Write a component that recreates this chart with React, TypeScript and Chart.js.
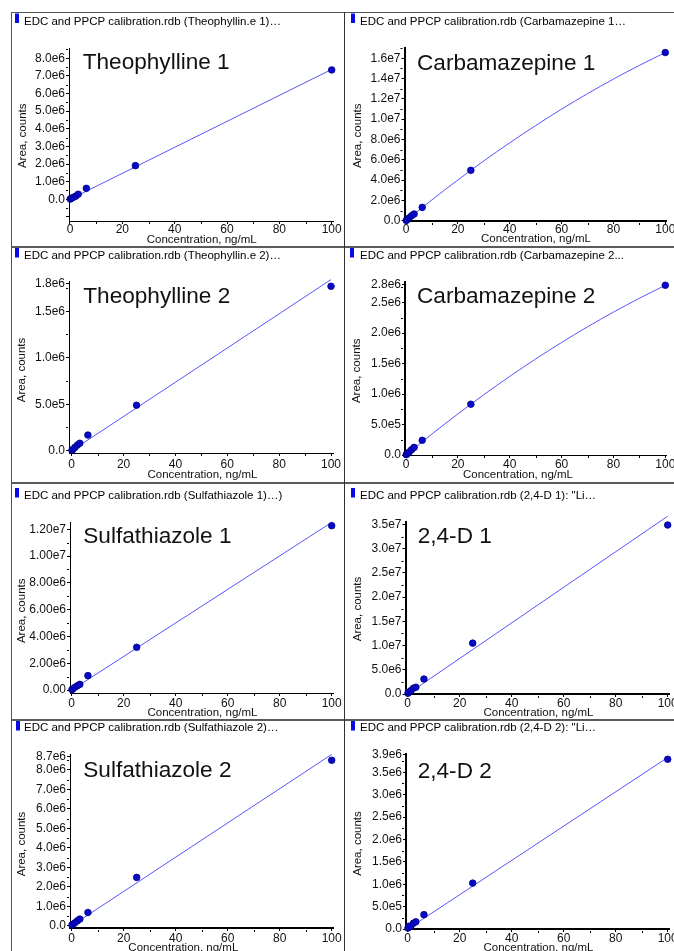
import React, { useEffect, useRef } from 'react';
import { Chart, registerables } from 'chart.js';

Chart.register(...registerables);

// ---------------- data ----------------
const concentrations = [0.1, 0.4, 1.25, 2.2, 3.125, 6.25, 25, 100];

const theophylline1Areas = [0.015e6, 0.045e6, 0.11e6, 0.18e6, 0.29e6, 0.62e6, 1.91e6, 7.34e6];
const carbamazepine1Areas = [0.03e6, 0.1e6, 0.28e6, 0.5e6, 0.66e6, 1.31e6, 4.96e6, 16.56e6];
const theophylline2Areas = [0.004e6, 0.012e6, 0.035e6, 0.06e6, 0.08e6, 0.168e6, 0.489e6, 1.768e6];
const carbamazepine2Areas = [0.006e6, 0.02e6, 0.05e6, 0.09e6, 0.125e6, 0.241e6, 0.833e6, 2.784e6];
const sulfathiazole1Areas = [0.03e6, 0.08e6, 0.2e6, 0.32e6, 0.42e6, 1.07e6, 3.19e6, 12.27e6];
const d24First_Areas = [0.15e6, 0.4e6, 0.7e6, 1.2e6, 1.4e6, 3.09e6, 10.5e6, 34.87e6];
const sulfathiazole2Areas = [0.03e6, 0.07e6, 0.15e6, 0.25e6, 0.34e6, 0.68e6, 2.48e6, 8.5e6];
const d24Second_Areas = [0.02e6, 0.06e6, 0.065e6, 0.13e6, 0.16e6, 0.32e6, 1.025e6, 3.79e6];

// calibration fits
const linearFitConc = [0, 100];
const curveFitConc = [0, 10, 20, 30, 40, 50, 60, 70, 80, 90, 100];

const theophylline1Fit = [0, 7.37e6];
const carbamazepine1Fit = [0, 2.05e6, 4.01e6, 5.89e6, 7.67e6, 9.37e6, 10.99e6, 12.51e6, 13.95e6, 15.3e6, 16.56e6];
const theophylline2Fit = [0, 1.84e6];
const carbamazepine2Fit = [0, 0.344e6, 0.674e6, 0.989e6, 1.289e6, 1.575e6, 1.846e6, 2.102e6, 2.344e6, 2.571e6, 2.784e6];
const sulfathiazole1Fit = [0, 12.52e6];
const d24First_Fit = [0, 36.7e6];
const sulfathiazole2Fit = [0, 8.8e6];
const d24Second_Fit = [0, 3.83e6];

// tick values and labels
const xTickValues = [0, 20, 40, 60, 80, 100];
const xTickLabels = ['0', '20', '40', '60', '80', '100'];

const theophylline1YTicks = [-1e6, 0, 1e6, 2e6, 3e6, 4e6, 5e6, 6e6, 7e6, 8e6];
const theophylline1YLabels = ['', '0.0', '1.0e6', '2.0e6', '3.0e6', '4.0e6', '5.0e6', '6.0e6', '7.0e6', '8.0e6'];
const carbamazepine1YTicks = [0, 2e6, 4e6, 6e6, 8e6, 10e6, 12e6, 14e6, 16e6];
const carbamazepine1YLabels = ['0.0', '2.0e6', '4.0e6', '6.0e6', '8.0e6', '1.0e7', '1.2e7', '1.4e7', '1.6e7'];
const theophylline2YTicks = [0, 0.5e6, 1e6, 1.5e6, 1.8e6];
const theophylline2YLabels = ['0.0', '5.0e5', '1.0e6', '1.5e6', '1.8e6'];
const carbamazepine2YTicks = [0, 0.5e6, 1e6, 1.5e6, 2e6, 2.5e6, 2.8e6];
const carbamazepine2YLabels = ['0.0', '5.0e5', '1.0e6', '1.5e6', '2.0e6', '2.5e6', '2.8e6'];
const sulfathiazole1YTicks = [0, 2e6, 4e6, 6e6, 8e6, 10e6, 12e6];
const sulfathiazole1YLabels = ['0.00', '2.00e6', '4.00e6', '6.00e6', '8.00e6', '1.00e7', '1.20e7'];
const d24First_YTicks = [0, 5e6, 10e6, 15e6, 20e6, 25e6, 30e6, 35e6];
const d24First_YLabels = ['0.0', '5.0e6', '1.0e7', '1.5e7', '2.0e7', '2.5e7', '3.0e7', '3.5e7'];
const sulfathiazole2YTicks = [0, 1e6, 2e6, 3e6, 4e6, 5e6, 6e6, 7e6, 8e6, 8.7e6];
const sulfathiazole2YLabels = ['0.0', '1.0e6', '2.0e6', '3.0e6', '4.0e6', '5.0e6', '6.0e6', '7.0e6', '8.0e6', '8.7e6'];
const d24Second_YTicks = [0, 0.5e6, 1e6, 1.5e6, 2e6, 2.5e6, 3e6, 3.5e6, 3.9e6];
const d24Second_YLabels = ['0.0', '5.0e5', '1.0e6', '1.5e6', '2.0e6', '2.5e6', '3.0e6', '3.5e6', '3.9e6'];

const headers = [
  'EDC and PPCP calibration.rdb (Theophyllin.e 1)\u2026',
  'EDC and PPCP calibration.rdb (Carbamazepine 1\u2026',
  'EDC and PPCP calibration.rdb (Theophyllin.e 2)\u2026',
  'EDC and PPCP calibration.rdb (Carbamazepine 2...',
  'EDC and PPCP calibration.rdb (Sulfathiazole 1)\u2026)',
  'EDC and PPCP calibration.rdb (2,4-D 1): "Li\u2026',
  'EDC and PPCP calibration.rdb (Sulfathiazole 2)\u2026',
  'EDC and PPCP calibration.rdb (2,4-D 2): "Li\u2026',
];
const titles = [
  'Theophylline 1', 'Carbamazepine 1', 'Theophylline 2', 'Carbamazepine 2',
  'Sulfathiazole 1', '2,4-D 1', 'Sulfathiazole 2', '2,4-D 2',
];
const xAxisTitle = 'Concentration, ng/mL';
const yAxisTitle = 'Area, counts';

// ---------------- layout (absolute page pixels) ----------------
type Layout = {
  left: number; top: number; width: number; height: number;
  area: [number, number, number, number];
  xRange: [number, number]; yRange: [number, number];
  yMinor: number; yBorder: number; xBorder: number;
  square: [number, number]; header: [number, number];
  title: [number, number]; yTitle: [number, number]; xTitle: [number, number];
  xLabelY: number;
};

const layouts: Layout[] = [
  { left: 11, top: 13, width: 333, height: 234, area: [69, 48, 333, 221], xRange: [-0.38, 100.5], yRange: [-1.231e6, 8.584e6],
    yMinor: 0.5e6, yBorder: 1, xBorder: 1, square: [15, 13.5], header: [24, 21.7], title: [82.7, 69], yTitle: [23.3, 135.8], xTitle: [201.7, 240], xLabelY: 230 },
  { left: 344, top: 13, width: 330, height: 234, area: [404.5, 48, 666, 221], xRange: [-0.58, 100.27], yRange: [-0.03e6, 17.01e6],
    yMinor: 1e6, yBorder: 2, xBorder: 2, square: [351, 13.5], header: [360, 21.7], title: [417, 70], yTitle: [357.7, 135.8], xTitle: [536, 239.3], xLabelY: 230 },
  { left: 11, top: 247, width: 333, height: 236, area: [69, 281, 333, 453], xRange: [-1.04, 100.77], yRange: [-0.025e6, 1.825e6],
    yMinor: 0.25e6, yBorder: 1, xBorder: 1, square: [15, 248], header: [24, 256], title: [83.3, 303.3], yTitle: [22.3, 370], xTitle: [202.5, 475], xLabelY: 465 },
  { left: 344, top: 247, width: 330, height: 236, area: [405, 282, 666, 455], xRange: [-0.39, 100.27], yRange: [0, 2.838e6],
    yMinor: 0.25e6, yBorder: 2, xBorder: 1, square: [350, 248], header: [360, 256], title: [417, 303.3], yTitle: [357, 370.8], xTitle: [518, 475], xLabelY: 465 },
  { left: 11, top: 483, width: 333, height: 236, area: [70, 522, 333, 693], xRange: [-0.65, 100.5], yRange: [-0.224e6, 12.545e6],
    yMinor: 1e6, yBorder: 1, xBorder: 1, square: [15, 488], header: [24, 496], title: [83.3, 542.7], yTitle: [22.3, 610.8], xTitle: [202.5, 713.3], xLabelY: 704 },
  { left: 344, top: 483, width: 330, height: 236, area: [405.5, 522, 669, 694], xRange: [-0.85, 100.5], yRange: [0, 35.5e6],
    yMinor: 2.5e6, yBorder: 2, xBorder: 2, square: [351, 488], header: [360, 496], title: [417.7, 543.3], yTitle: [357.7, 609], xTitle: [538.5, 713.3], xLabelY: 704 },
  { left: 11, top: 719, width: 333, height: 232, area: [70, 754, 333, 928], xRange: [-0.65, 100.5], yRange: [-0.118e6, 8.82e6],
    yMinor: 0.5e6, yBorder: 1, xBorder: 2, square: [16, 721], header: [24, 728.3], title: [83.3, 776.7], yTitle: [22.3, 844], xTitle: [183.3, 948.3], xLabelY: 939 },
  { left: 344, top: 719, width: 330, height: 232, area: [406, 754, 669, 929], xRange: [-0.65, 100.5], yRange: [0, 3.908e6],
    yMinor: 0.25e6, yBorder: 2, xBorder: 2, square: [351, 721], header: [360, 728.3], title: [417.7, 778.3], yTitle: [357.7, 843.5], xTitle: [538.5, 948.3], xLabelY: 939 },
];

type Series = { areas: number[]; fitConc: number[]; fitAreas: number[]; yTicks: number[]; yLabels: string[]; curved: boolean };

const series: Series[] = [
  { areas: theophylline1Areas, fitConc: linearFitConc, fitAreas: theophylline1Fit, yTicks: theophylline1YTicks, yLabels: theophylline1YLabels, curved: false },
  { areas: carbamazepine1Areas, fitConc: curveFitConc, fitAreas: carbamazepine1Fit, yTicks: carbamazepine1YTicks, yLabels: carbamazepine1YLabels, curved: true },
  { areas: theophylline2Areas, fitConc: linearFitConc, fitAreas: theophylline2Fit, yTicks: theophylline2YTicks, yLabels: theophylline2YLabels, curved: false },
  { areas: carbamazepine2Areas, fitConc: curveFitConc, fitAreas: carbamazepine2Fit, yTicks: carbamazepine2YTicks, yLabels: carbamazepine2YLabels, curved: true },
  { areas: sulfathiazole1Areas, fitConc: linearFitConc, fitAreas: sulfathiazole1Fit, yTicks: sulfathiazole1YTicks, yLabels: sulfathiazole1YLabels, curved: false },
  { areas: d24First_Areas, fitConc: linearFitConc, fitAreas: d24First_Fit, yTicks: d24First_YTicks, yLabels: d24First_YLabels, curved: false },
  { areas: sulfathiazole2Areas, fitConc: linearFitConc, fitAreas: sulfathiazole2Fit, yTicks: sulfathiazole2YTicks, yLabels: sulfathiazole2YLabels, curved: false },
  { areas: d24Second_Areas, fitConc: linearFitConc, fitAreas: d24Second_Fit, yTicks: d24Second_YTicks, yLabels: d24Second_YLabels, curved: false },
];

const FAMILY = '"Liberation Sans", Arial, Helvetica, sans-serif';
const SMALL = 11.5;
const TICK_FONT = 12;
const TICK_LEN = 3;
const X_MINOR = 10;

function makeDecor(idx: number) {
  const L = layouts[idx];
  const S = series[idx];
  return {
    id: 'panelDecor' + idx,
    afterDraw(chart: any) {
      const ctx: CanvasRenderingContext2D = chart.ctx;
      const ox = L.left;
      const oy = L.top;
      const area = chart.chartArea;
      const xs = chart.scales.x;
      const ys = chart.scales.y;
      ctx.save();
      // minor ticks
      ctx.strokeStyle = '#000';
      ctx.lineWidth = 1;
      ctx.beginPath();
      const yMin = ys.min, yMax = ys.max;
      for (let v = Math.ceil(yMin / L.yMinor) * L.yMinor; v <= yMax + 1e-6; v += L.yMinor) {
        if (S.yTicks.some((t) => Math.abs(t - v) < L.yMinor * 0.01)) continue;
        const py = Math.round(ys.getPixelForValue(v)) + 0.5;
        const x0 = area.left - L.yBorder;
        ctx.moveTo(x0, py);
        ctx.lineTo(x0 - 2, py);
      }
      for (let v = Math.ceil(xs.min / X_MINOR) * X_MINOR; v <= xs.max + 1e-6; v += X_MINOR) {
        if (xTickValues.indexOf(v) >= 0) continue;
        const px = Math.round(xs.getPixelForValue(v)) + 0.5;
        const y0 = area.bottom + L.xBorder;
        ctx.moveTo(px, y0);
        ctx.lineTo(px, y0 + 2);
      }
      ctx.stroke();

      // header marker + text
      ctx.fillStyle = '#0a0ae6';
      ctx.fillRect(L.square[0] - ox, L.square[1] - oy, 4, 9.5);
      ctx.fillStyle = '#000';
      ctx.font = `${SMALL}px ${FAMILY}`;
      ctx.textAlign = 'left';
      ctx.textBaseline = 'middle';
      ctx.fillText(headers[idx], L.header[0] - ox, L.header[1] - oy);

      // big in-plot title
      ctx.font = `22.6px ${FAMILY}`;
      ctx.textBaseline = 'alphabetic';
      ctx.fillStyle = '#111';
      ctx.fillText(titles[idx], L.title[0] - ox, L.title[1] - oy);

      // axis titles
      ctx.font = `${SMALL}px ${FAMILY}`;
      ctx.textAlign = 'center';
      ctx.textBaseline = 'middle';
      ctx.fillStyle = '#111';
      ctx.fillText(xAxisTitle, L.xTitle[0] - ox, L.xTitle[1] - oy);
      ctx.translate(L.yTitle[0] - ox, L.yTitle[1] - oy);
      ctx.rotate(-Math.PI / 2);
      ctx.fillText(yAxisTitle, 0, 0);
      ctx.restore();
    },
  };
}

function Panel({ idx }: { idx: number }) {
  const ref = useRef<HTMLCanvasElement | null>(null);
  const L = layouts[idx];
  const S = series[idx];
  useEffect(() => {
    if (!ref.current) return;
    const tickFont = { family: FAMILY, size: TICK_FONT, lineHeight: 1 };
    const chart = new Chart(ref.current, {
      type: 'scatter',
      data: {
        datasets: [
          {
            label: titles[idx],
            data: concentrations.map((c, i) => ({ x: c, y: S.areas[i] })),
            backgroundColor: '#0808c8',
            borderColor: '#000088',
            borderWidth: 0.8,
            pointRadius: 3.3,
            pointHoverRadius: 3.3,
            clip: false as any,
            order: 0,
          },
          {
            label: 'fit',
            data: S.fitConc.map((c, i) => ({ x: c, y: S.fitAreas[i] })),
            showLine: true,
            borderColor: '#5555ff',
            borderWidth: 1,
            pointRadius: 0,
            cubicInterpolationMode: S.curved ? 'monotone' : 'default',
            clip: false as any,
            order: 1,
          } as any,
        ],
      },
      options: {
        responsive: false,
        animation: false,
        devicePixelRatio: 1,
        events: [],
        layout: {
          padding: {
            left: 0,
            top: L.area[1] - L.top,
            right: L.left + L.width - L.area[2],
            bottom: 0,
          },
        },
        plugins: {
          legend: { display: false },
          tooltip: { enabled: false },
          title: { display: false },
        },
        scales: {
          x: {
            type: 'linear',
            min: L.xRange[0],
            max: L.xRange[1],
            afterBuildTicks: (s: any) => {
              s.ticks = xTickValues.map((v) => ({ value: v }));
            },
            afterFit: (s: any) => {
              s.height = L.top + L.height - L.area[3];
              s.paddingLeft = 0;
              s.paddingRight = 0;
            },
            grid: { display: true, drawOnChartArea: false, drawTicks: true, tickLength: TICK_LEN, color: '#000', lineWidth: 1 },
            border: { display: true, color: '#000', width: L.xBorder },
            ticks: {
              autoSkip: false,
              maxRotation: 0,
              minRotation: 0,
              color: '#111',
              font: tickFont,
              padding: Math.max(0, L.xLabelY - L.area[3] - TICK_LEN - TICK_FONT / 2),
              callback: (_v: any, i: number) => xTickLabels[i],
            },
          },
          y: {
            type: 'linear',
            min: L.yRange[0],
            max: L.yRange[1],
            afterBuildTicks: (s: any) => {
              s.ticks = S.yTicks.map((v) => ({ value: v }));
            },
            afterFit: (s: any) => {
              s.width = L.area[0] - L.left;
              s.paddingTop = 0;
              s.paddingBottom = 0;
            },
            grid: { display: true, drawOnChartArea: false, drawTicks: true, tickLength: TICK_LEN, color: '#000', lineWidth: 1 },
            border: { display: true, color: '#000', width: L.yBorder },
            ticks: {
              autoSkip: false,
              color: '#111',
              font: tickFont,
              padding: 1,
              callback: (_v: any, i: number) => S.yLabels[i],
            },
          },
        },
      },
      plugins: [makeDecor(idx)],
    } as any);
    return () => chart.destroy();
  }, []);
  return (
    <canvas
      ref={ref}
      width={L.width}
      height={L.height}
      style={{ position: 'absolute', left: L.left, top: L.top, width: L.width, height: L.height }}
    />
  );
}

function Line({ x, y, w, h, c }: { x: number; y: number; w: number; h: number; c: string }) {
  return <div style={{ position: 'absolute', left: x, top: y, width: w, height: h, background: c, zIndex: 2 }} />;
}

export default function App() {
  return (
    <div style={{ position: 'absolute', left: 0, top: 0, width: 674, height: 951, overflow: 'hidden', background: '#fff' }}>
      {layouts.map((_, i) => (
        <Panel key={i} idx={i} />
      ))}
      <Line x={11} y={12} w={663} h={1} c="#555" />
      <Line x={11} y={246} w={663} h={2} c="#5a5a5a" />
      <Line x={11} y={482} w={663} h={2} c="#5a5a5a" />
      <Line x={11} y={719} w={663} h={2} c="#5a5a5a" />
      <Line x={11} y={12} w={1} h={939} c="#555" />
      <Line x={344} y={12} w={1} h={939} c="#333" />
    </div>
  );
}
